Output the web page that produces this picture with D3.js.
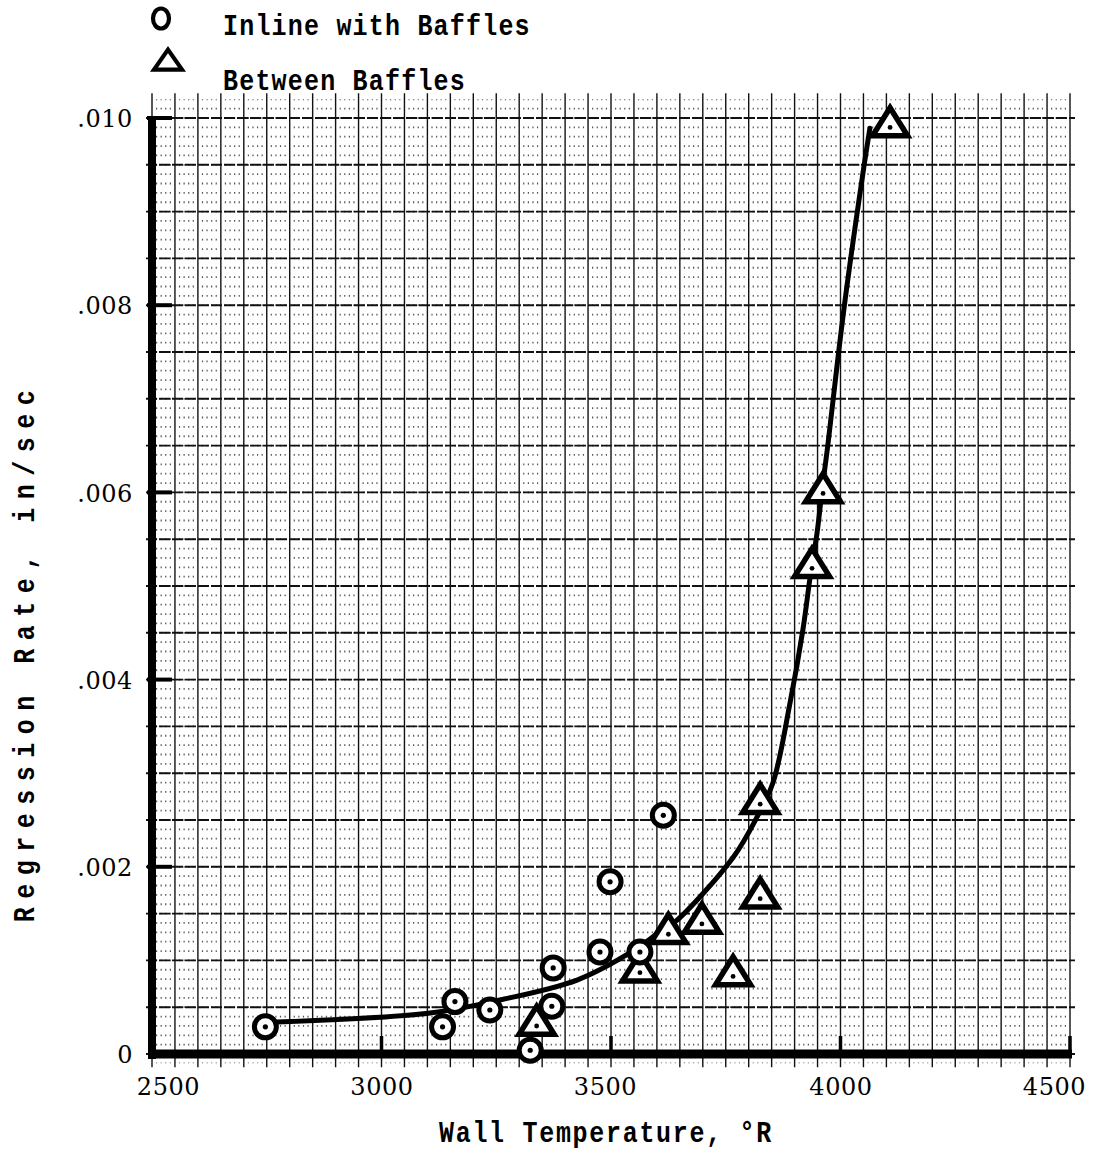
<!DOCTYPE html>
<html>
<head>
<meta charset="utf-8">
<script src="https://cdn.jsdelivr.net/npm/d3@7"></script>
<style>
  body { margin: 0; background: #fff; }
  svg { display: block; }
</style>
</head>
<body>
<svg id="chart" width="1093" height="1154"></svg>
<script>
// Regression rate vs. wall temperature, two probe locations
const inlineTemp  = [2747, 3133, 3160, 3236, 3324, 3371, 3374, 3476, 3498, 3563, 3614];
const inlineRate  = [0.00029, 0.00029, 0.00056, 0.00047, 0.00004, 0.00051, 0.00092, 0.00109, 0.00184, 0.00109, 0.00255];

const betweenTemp = [3338, 3563, 3625, 3698, 3766, 3825, 3825, 3938, 3962, 4108];
const betweenRate = [0.00031, 0.00088, 0.00129, 0.00140, 0.00084, 0.00167, 0.00268, 0.00520, 0.00600, 0.00991];

// hand-faired curve through the data
const fitTemp = [2772, 3106, 3258, 3426, 3541, 3622, 3644, 3766, 3818, 3853, 3890, 3918, 3934, 3949, 3960, 3971, 4008, 4051, 4064];
const fitRate = [0.000342, 0.000438, 0.000577, 0.00079, 0.00108, 0.00136, 0.00143, 0.0021, 0.00253, 0.0029, 0.00375, 0.00453, 0.0051, 0.00557, 0.00603, 0.00645, 0.00798, 0.00948, 0.00989];

const xTickValues = [2500, 3000, 3500, 4000, 4500];
const xTickLabels = ["2500", "3000", "3500", "4000", "4500"];
const yTickValues = [0, 0.002, 0.004, 0.006, 0.008, 0.010];
const yTickLabels = ["0", ".002", ".004", ".006", ".008", ".010"];

const legendLabels = ["Inline with Baffles", "Between Baffles"];
const xTitle = "Wall Temperature, \u00B0R";
const yTitle = "Regression Rate, in/sec";

const svg = d3.select("#chart");
const x = d3.scaleLinear().domain([2500, 4500]).range([152, 1070]);
const y = d3.scaleLinear().domain([0, 0.010]).range([1054, 118]);

const typeFont = "'Liberation Mono', 'DejaVu Sans Mono', monospace";
const numFont = "'DejaVu Serif', 'Liberation Serif', serif";

// typewritten text: monospace face, slightly tall
function typed(parent, str, tx, ty, opts = {}) {
  const g = parent.append("g")
    .attr("transform", `translate(${tx},${ty}) rotate(${opts.rotate || 0}) scale(1,1.2)`);
  return g.append("text")
    .attr("text-anchor", opts.anchor || "start")
    .attr("font-family", typeFont).attr("font-weight", "bold").attr("font-size", 25)
    .attr("letter-spacing", opts.spacing == null ? 1.4 : opts.spacing)
    .attr("fill", "#000")
    .text(str);
}

// ---- graph paper ----
const grid = svg.append("g");
const gx0 = 2500, gx1 = 4500;          // paper extent in temperature
const gyLo = -1, gyHi = 102;           // paper extent in 0.0001 steps
const yTopPx = y(gyHi * 1e-4), yBotPx = y(gyLo * 1e-4);
const minorDy = y(0) - y(0.0001);

// minor dotted columns (every 10 deg R), dots fall on the 0.0001 rows
d3.range(0, 201).filter(i => i % 5 !== 0).forEach(i => {
  const t = gx0 + i * 10;
  grid.append("line")
    .attr("x1", x(t)).attr("x2", x(t))
    .attr("y1", yTopPx).attr("y2", yBotPx)
    .attr("stroke", "#555").attr("stroke-width", 1.2)
    .attr("stroke-dasharray", `1.8 ${minorDy - 1.8}`)
    .attr("stroke-dashoffset", 0.9);
});
// major columns (every 50 deg R)
d3.range(0, 41).forEach(i => {
  const t = gx0 + i * 50;
  grid.append("line")
    .attr("x1", x(t)).attr("x2", x(t))
    .attr("y1", yTopPx - 6).attr("y2", yBotPx + 4)
    .attr("stroke", "#111").attr("stroke-width", 1.4);
});
// major rows (every 0.0005)
d3.range(0, 21).forEach(j => {
  const v = j * 0.0005;
  grid.append("line")
    .attr("x1", x(gx0) - 6).attr("x2", x(gx1) + 5)
    .attr("y1", y(v)).attr("y2", y(v))
    .attr("stroke", "#111").attr("stroke-width", 1.9)
    .attr("stroke-dasharray", "11 2");
});

// ---- heavy axes and ticks ----
const axes = svg.append("g");
axes.append("line")
  .attr("x1", x(2500)).attr("x2", x(2500))
  .attr("y1", y(0.010) - 2).attr("y2", y(0) + 5)
  .attr("stroke", "#000").attr("stroke-width", 8);
axes.append("line")
  .attr("x1", x(2500) - 4).attr("x2", x(4500) + 2)
  .attr("y1", y(0)).attr("y2", y(0))
  .attr("stroke", "#000").attr("stroke-width", 9);

// inward y ticks
axes.selectAll(".ytick").data(yTickValues.slice(1)).join("line")
  .attr("x1", x(2500) - 5).attr("x2", x(2500) + 20)
  .attr("y1", d => y(d)).attr("y2", d => y(d))
  .attr("stroke", "#000").attr("stroke-width", 4);
// upward x ticks
axes.selectAll(".xtick").data(xTickValues.slice(1)).join("line")
  .attr("x1", d => x(d)).attr("x2", d => x(d))
  .attr("y1", y(0)).attr("y2", y(0) - 18)
  .attr("stroke", "#000").attr("stroke-width", 3.5);

// tick labels via d3 axes (domain and tick lines hidden)
const yAxis = d3.axisLeft(y).tickValues(yTickValues)
  .tickFormat((d, i) => yTickLabels[i]).tickSize(0).tickPadding(19);
const yg = svg.append("g").attr("transform", `translate(${x(2500)},0)`).call(yAxis);
yg.select(".domain").remove();
yg.selectAll("text")
  .attr("font-family", numFont).attr("font-size", 24)
  .attr("letter-spacing", 0.6).attr("fill", "#000").attr("dy", "0.36em");

const xAxis = d3.axisBottom(x).tickValues(xTickValues)
  .tickFormat((d, i) => xTickLabels[i]).tickSize(0).tickPadding(24);
const xg = svg.append("g").attr("transform", `translate(0,${y(0)})`).call(xAxis);
xg.select(".domain").remove();
xg.selectAll("text")
  .attr("font-family", numFont).attr("font-size", 24)
  .attr("letter-spacing", 0.6).attr("fill", "#000")
  .attr("dx", (d, i) => i === 0 ? 16 : (i === xTickValues.length - 1 ? -16 : (i === 2 ? -6 : 0)));

// ---- faired curve ----
const fit = fitTemp.map((t, i) => [t, fitRate[i]]);
svg.append("path")
  .datum(fit)
  .attr("d", d3.line().x(d => x(d[0])).y(d => y(d[1])).curve(d3.curveCatmullRom.alpha(0.5)))
  .attr("fill", "none").attr("stroke", "#000").attr("stroke-width", 5)
  .attr("stroke-linecap", "round");

// ---- markers ----
const triPath = (w, h) => `M0,${-h * 2 / 3}L${w / 2},${h / 3}L${-w / 2},${h / 3}Z`;

const between = betweenTemp.map((t, i) => ({ t, r: betweenRate[i] }));
const tri = svg.append("g").selectAll("g").data(between).join("g")
  .attr("transform", d => `translate(${x(d.t)},${y(d.r)})`);
tri.append("path").attr("d", triPath(35, 28))
  .attr("fill", "#fff").attr("stroke", "#000").attr("stroke-width", 5.5)
  .attr("stroke-linejoin", "miter");
tri.append("circle").attr("r", 2.4).attr("cy", 1).attr("fill", "#000");

const inline = inlineTemp.map((t, i) => ({ t, r: inlineRate[i] }));
const circ = svg.append("g").selectAll("g").data(inline).join("g")
  .attr("transform", d => `translate(${x(d.t)},${y(d.r)})`);
circ.append("circle").attr("r", 11)
  .attr("fill", "#fff").attr("stroke", "#000").attr("stroke-width", 5);
circ.append("circle").attr("r", 2.6).attr("fill", "#000");

// ---- legend ----
const leg = svg.append("g");
leg.append("ellipse").attr("cx", 161).attr("cy", 18.5).attr("rx", 8).attr("ry", 10)
  .attr("fill", "none").attr("stroke", "#000").attr("stroke-width", 4.2);
leg.append("path").attr("transform", "translate(168,63)").attr("d", triPath(28, 20))
  .attr("fill", "none").attr("stroke", "#000").attr("stroke-width", 4.2);
legendLabels.forEach((lab, i) => typed(leg, lab, 223, i === 0 ? 35 : 90, { spacing: 1.2 }));

// ---- axis titles ----
typed(svg, xTitle, 606, 1142, { anchor: "middle", spacing: 1.7 });
typed(svg, yTitle, 34, 652, { anchor: "middle", rotate: -90, spacing: 8.5 });
</script>
</body>
</html>
